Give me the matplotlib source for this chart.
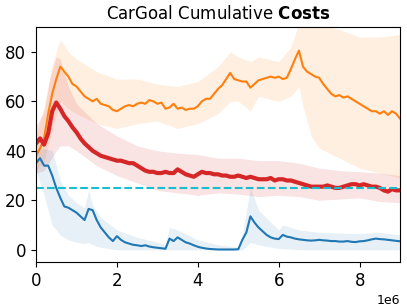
import matplotlib.pyplot as plt
import numpy as np

# mean curves, sampled every 0.1e6 steps
steps = np.arange(91) * 0.1e6

orange = [38, 41, 45, 55, 63, 69, 74, 72, 70, 67,
          66, 64, 62, 61, 60, 61, 59, 58.5, 58, 56.5,
          56, 57, 58, 58.5, 58, 59, 59.5, 59, 60.5, 60,
          59, 59.5, 57, 57.5, 59, 57, 57.5, 56.5, 57, 57,
          58, 60, 61, 61, 63, 65, 66.5, 69, 71.5, 69,
          68.5, 68, 68, 65.5, 67, 68.5, 69, 69.5, 70, 69.5,
          70, 69, 69.5, 73, 77, 80.5, 74, 72, 71, 70,
          69.5, 67, 65, 63, 62, 62.5, 61.5, 62, 61, 60,
          59, 58, 57, 56, 56, 55, 56, 54.5, 56, 55, 53]

red = [43, 45, 42.5, 47, 56, 59.5, 57, 54, 52, 49.5,
       47.5, 45, 43, 41.5, 40, 39, 38, 37.5, 37, 36.5,
       36, 36, 35.5, 35, 35, 34, 33, 32, 31.5, 31.5,
       31, 31, 31.5, 31, 31, 32.5, 31.5, 30.5, 30, 29.5,
       30.5, 31.5, 31, 31, 30.5, 30.5, 30, 30, 29.5, 29.5,
       30, 29.5, 29, 29.5, 29, 28.5, 28.5, 28.5, 29, 28,
       28.5, 28.5, 28, 28, 27.5, 27, 26.5, 26, 25.5, 25.5,
       25.5, 25.5, 26, 25.5, 25, 25, 25.5, 26, 26.5, 26.5,
       26, 26.5, 26, 25.5, 25.5, 25, 24, 23.5, 24.5, 24, 24]

blue = [35, 37, 34, 34, 30, 25, 21, 17.5, 17, 16,
        15, 13.5, 12, 16.5, 16, 12, 9, 7, 5, 3.5,
        5.5, 4, 3, 2.5, 2, 1.8, 1.5, 1.8, 1.3, 1,
        0.8, 0.6, 0.4, 4.5, 3.5, 5, 4, 3, 2.5, 1.8,
        1.2, 0.8, 0.5, 0.3, 0.2, 0.1, 0.1, 0.1, 0.1, 0.1,
        0.2, 4, 7, 13.5, 11, 9, 7.5, 6, 5, 4.5,
        4.3, 6, 5.3, 5, 4.5, 4.2, 4, 3.8, 3.7, 3.8,
        4, 3.8, 3.7, 3.5, 3.5, 3.3, 3.3, 3.5, 3.2, 3.1,
        3.4, 3.5, 3.8, 4.2, 4.5, 4.3, 4.2, 4.0, 3.8, 3.6, 3.4]

# shaded bands (in 1e6 steps)
orange_t = [0, 0.2, 0.4, 0.6, 0.8, 1.0, 1.5, 2.0, 2.5, 3.0, 3.5, 4.0, 4.5, 4.8,
            5.0, 5.3, 5.5, 6.0, 6.3, 6.5, 6.6, 6.8, 7.0, 7.5, 8.0, 8.5, 9.0]
orange_hi = [46, 58, 75, 85, 80, 77, 72, 69, 69, 67, 66, 68, 74, 80,
             78, 76, 78, 76, 82, 92, 92, 91, 91, 89, 86, 86, 87]
orange_lo = [32, 36, 48, 60, 57, 55, 51, 49, 51, 52, 49, 51, 55, 60,
             60, 56, 62, 60, 62, 66, 58, 46, 41, 37, 33, 31, 29]

red_t = [0, 0.2, 0.35, 0.5, 0.6, 0.8, 1.0, 1.5, 2.0, 2.5, 3.0, 3.5, 4.0,
         4.5, 5.0, 5.5, 6.0, 6.5, 7.0, 7.5, 8.0, 8.5, 9.0]
red_hi = [50, 56, 70, 78, 77, 66, 59, 51, 46, 42, 40, 39, 38.5,
          37, 37, 36, 36, 35, 33, 32, 31.5, 31, 30]
red_lo = [31, 32, 36, 40, 42, 42, 40, 34, 30, 27, 24, 23, 22,
          23, 22.5, 21.5, 22, 21.5, 20, 20.5, 21, 19.5, 19]

blue_t = [0, 0.2, 0.4, 0.5, 0.6, 0.8, 1.0, 1.2, 1.3, 1.4, 1.6, 2.0, 2.5, 3.0, 3.2,
          3.3, 3.5, 4.0, 4.5, 5.0, 5.1, 5.3, 5.5, 6.0, 6.1, 6.5, 7.0, 8.0, 8.5, 9.0]
blue_hi = [40, 41, 40, 34, 28, 22, 19, 17, 24, 18, 13, 8, 5, 3, 2,
           9, 8, 4, 2, 1, 6, 25, 16, 8, 10, 8, 7, 6.5, 7, 6]
blue_lo = [32, 22, 10, 8, 6, 4, 3, 2.5, 3, 2, 1, 0, 0, 0, 0,
           0, 0, 0, 0, 0, 0, 3, 2, 0.5, 0.5, 0, 0, 0, 0, 0]

limit = 25

fig = plt.figure(figsize=(4.07, 3.08), dpi=100)
ax = fig.add_axes([0.0885, 0.149, 0.8945, 0.763])

ax.fill_between(np.array(orange_t) * 1e6, orange_lo, orange_hi, color='#ff7f0e', alpha=0.12, lw=0)
ax.fill_between(np.array(red_t) * 1e6, red_lo, red_hi, color='#d62728', alpha=0.13, lw=0)
ax.fill_between(np.array(blue_t) * 1e6, blue_lo, blue_hi, color='#1f77b4', alpha=0.11, lw=0)

ax.plot(steps, blue, color='#1f77b4', lw=1.5)
ax.plot(steps, orange, color='#ff7f0e', lw=1.5)
ax.plot(steps, red, color='#d62728', lw=3)
ax.axhline(limit, color='#17becf', ls='--', lw=1.5)

ax.set_xlim(0, 9e6)
ax.set_ylim(-5, 90)
ax.set_yticks([0, 20, 40, 60, 80])
ax.tick_params(labelsize=12)
ax.xaxis.get_offset_text().set_fontsize(9)
ax.set_title(r'CarGoal Cumulative $\bf{Costs}$', fontsize=12)

plt.savefig('out.png', dpi=100)
